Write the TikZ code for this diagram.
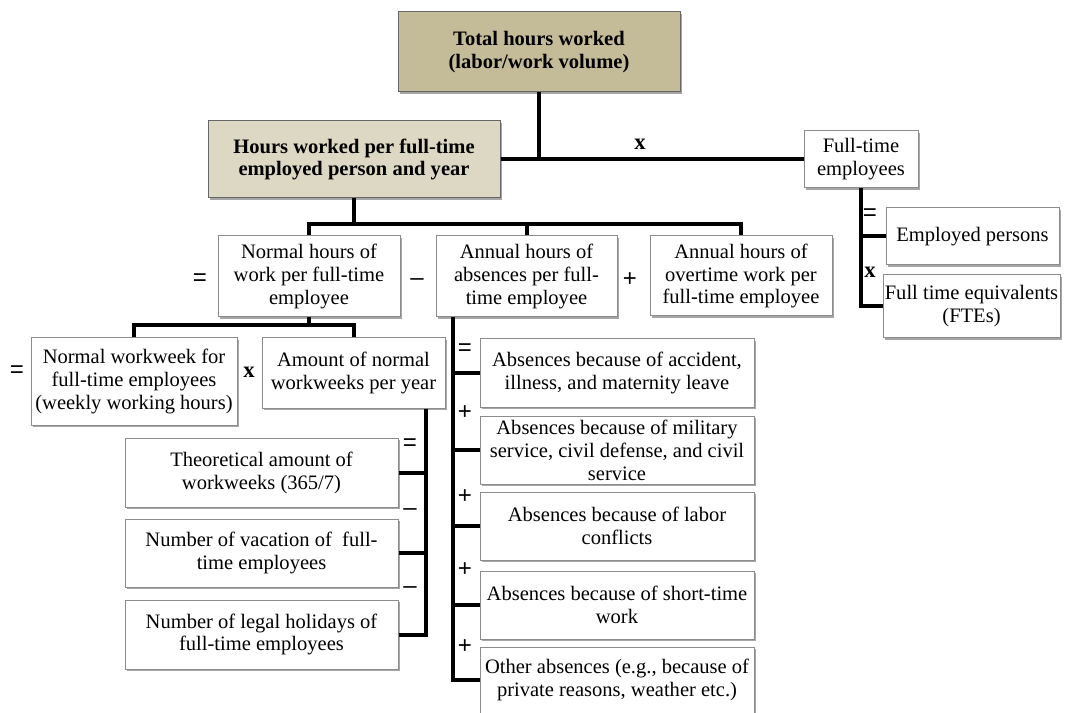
\documentclass[tikz,border=0pt]{standalone}
\usepackage{fontspec}
\setmainfont{Liberation Serif}
\newfontfamily\signfont{Liberation Sans}
\usetikzlibrary{shadows,backgrounds}
\definecolor{boxgray}{HTML}{8C8C8C}
\definecolor{topfill}{HTML}{C4BB98}
\definecolor{hoursfill}{HTML}{DDD8C4}
\begin{document}
\begin{tikzpicture}[x=0.75pt,y=-0.75pt,
  box/.style={draw=boxgray, line width=0.75pt, fill=white, align=center, inner sep=0pt,
    font=\fontsize{15.4}{17.2}\selectfont,
    drop shadow={shadow xshift=1.5pt, shadow yshift=-1.5pt, opacity=0.35, fill=black}},
  boldbox/.style={box, draw=gray!80!black, font=\bfseries\fontsize{15.4}{17.2}\selectfont},
  sz/.style 2 args={minimum width=#1*0.75pt, minimum height=#2*0.75pt},
  conn/.style={line width=3pt, black},
  sign/.style={font=\signfont\fontsize{18}{18}\selectfont, inner sep=0pt},
  xsign/.style={font=\bfseries\fontsize{17}{17}\selectfont, inner sep=0pt}]
\useasboundingbox (0,0) rectangle (1065,713);

% boxes
\node[boldbox, fill=topfill, sz={282}{80}] (top) at (539,52) {Total hours worked\\(labor/work volume)};
\node[boldbox, fill=hoursfill, sz={292}{77}] (hours) at (354,159.5) {Hours worked per full-time\\employed person and year};
\node[box, sz={114}{57}] (ft) at (861,159.5) {Full-time\\employees};
\node[box, sz={173}{57}] (emp) at (972.5,236.5) {Employed persons};
\node[box, sz={177}{63}] (fte) at (971.5,306.5) {Full time equivalents\\(FTEs)};

\node[box, sz={182}{81}] (normal) at (309,276.5) {Normal hours of\\work per full-time\\employee};
\node[box, sz={181}{81}] (absences) at (526.5,276.5) {Annual hours of\\absences per full-\\time employee};
\node[box, sz={182}{80}] (overtime) at (741,276) {Annual hours of\\overtime work per\\full-time employee};

\node[box, sz={206}{87}] (nww) at (134,381.5) {Normal workweek for\\full-time employees\\(weekly working hours)};
\node[box, sz={183}{70}] (amount) at (353.5,373) {Amount of normal\\workweeks per year};

\node[box, sz={273}{69}] (theo) at (261.5,472.5) {Theoretical amount of\\workweeks (365/7)};
\node[box, sz={273}{68}] (vac) at (261.5,553) {Number of vacation of~ full-\\time employees};
\node[box, sz={273}{69}] (legal) at (261.5,634.5) {Number of legal holidays of\\full-time employees};

\node[box, sz={274}{68}] (a1) at (617,373) {Absences because of accident,\\illness, and maternity leave};
\node[box, sz={274}{68}] (a2) at (617,450) {Absences because of military\\service, civil defense, and civil\\service};
\node[box, sz={274}{68}] (a3) at (617,526) {Absences because of labor\\conflicts};
\node[box, sz={274}{68}] (a4) at (617,605) {Absences because of short-time\\work};
\node[box, sz={274}{66}] (a5) at (617,680) {Other absences (e.g., because of\\private reasons, weather etc.)};

% signs
\node[xsign] (sx1) at (640,144) {x};
\node[sign] (s21) at (200,280) {=};
\node[sign] (s22) at (417,282) {–};
\node[sign] (s23) at (630,280) {+};
\node[sign] (s31) at (17,372) {=};
\node[xsign] (s32) at (249,372) {x};
\node[sign] (sm1) at (410,445) {=};
\node[sign] (sm2) at (410,512) {–};
\node[sign] (sm3) at (410,590) {–};
\node[sign] (sa1) at (465,350) {=};
\node[sign] (sa2) at (465,413) {+};
\node[sign] (sa3) at (465,497) {+};
\node[sign] (sa4) at (465,570) {+};
\node[sign] (sa5) at (465,647) {+};
\node[sign] (sf1) at (870,215) {=};
\node[xsign] (sf2) at (870,272) {x};

% junctions
\coordinate (j1) at (354,224);
\coordinate (j2) at (309,325);
\coordinate (av) at (426,0);
\coordinate (abv) at (453,0);

\begin{scope}[on background layer]
\draw[conn] (top.south) -- (top.south |- hours.east);
\draw[conn] (hours.east) -- (ft.west);
\draw[conn] (hours.south) -- (j1);
\draw[conn] (normal.north) |- (j1) -| (overtime.north);
\draw[conn] (absences.north) -- (absences.north |- j1);
\draw[conn] (normal.south) -- (j2);
\draw[conn] (nww.north) |- (j2) -| (amount.north);
\draw[conn] (amount.south -| av) -- (legal.east -| av) -- (legal.east);
\draw[conn] (theo.east) -- (theo.east -| av);
\draw[conn] (vac.east) -- (vac.east -| av);
\draw[conn] (absences.south -| abv) -- (a5.west -| abv) -- (a5.west);
\foreach \n in {a1,a2,a3,a4} \draw[conn] (\n.west) -- (\n.west -| abv);
\draw[conn] (ft.south) |- (fte.west);
\draw[conn] (emp.west) -- (emp.west -| ft.south);
\end{scope}
\end{tikzpicture}
\end{document}
